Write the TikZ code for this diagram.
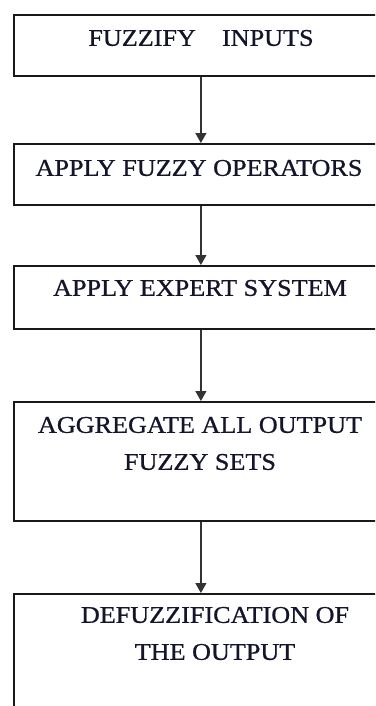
\documentclass[tikz,border=0pt]{standalone}
\usepackage{fontspec}
\setmainfont{Liberation Serif}
\newfontfamily\lblfont[FakeBold=0.8]{Liberation Serif}
\usetikzlibrary{arrows.meta}
\definecolor{txt}{HTML}{14142A}
\definecolor{arr}{HTML}{333333}
\begin{document}
\begin{tikzpicture}[x=1pt,y=-1pt,
  box/.style={draw=black!90,line width=1.8pt,rectangle,inner sep=0pt,anchor=north west},
  lbl/.style={text=txt,font=\lblfont\fontsize{24}{37}\selectfont,align=center,inner sep=0pt,xscale=1.09},
  conn/.style={draw=arr,line width=1.3pt,-{Triangle[width=11pt,length=10pt]}}]
\clip (0,0) rectangle (375,706);
\node[box,minimum width=374pt,minimum height=61pt] (b1) at (13,14) {};
\node[box,minimum width=374pt,minimum height=61pt] (b2) at (13,143) {};
\node[box,minimum width=374pt,minimum height=63pt] (b3) at (13,265) {};
\node[box,minimum width=374pt,minimum height=119pt] (b4) at (13,401) {};
\node[box,minimum width=374pt,minimum height=140pt] (b5) at (13,593) {};
\node[lbl] (t1) at (201,38) {FUZZIFY\quad INPUTS};
\node[lbl] (t2) at (199,168) {APPLY FUZZY OPERATORS};
\node[lbl] (t3) at (200,288) {APPLY EXPERT SYSTEM};
\node[lbl] (t4) at (200,443.5) {AGGREGATE ALL OUTPUT\\FUZZY SETS};
\node[lbl] (t5) at (215,633.5) {DEFUZZIFICATION OF\\THE OUTPUT};
\draw[conn] (b1.south) -- (b2.north);
\draw[conn] (b2.south) -- (b3.north);
\draw[conn] (b3.south) -- (b4.north);
\draw[conn] (b4.south) -- (b5.north);
\end{tikzpicture}
\end{document}
